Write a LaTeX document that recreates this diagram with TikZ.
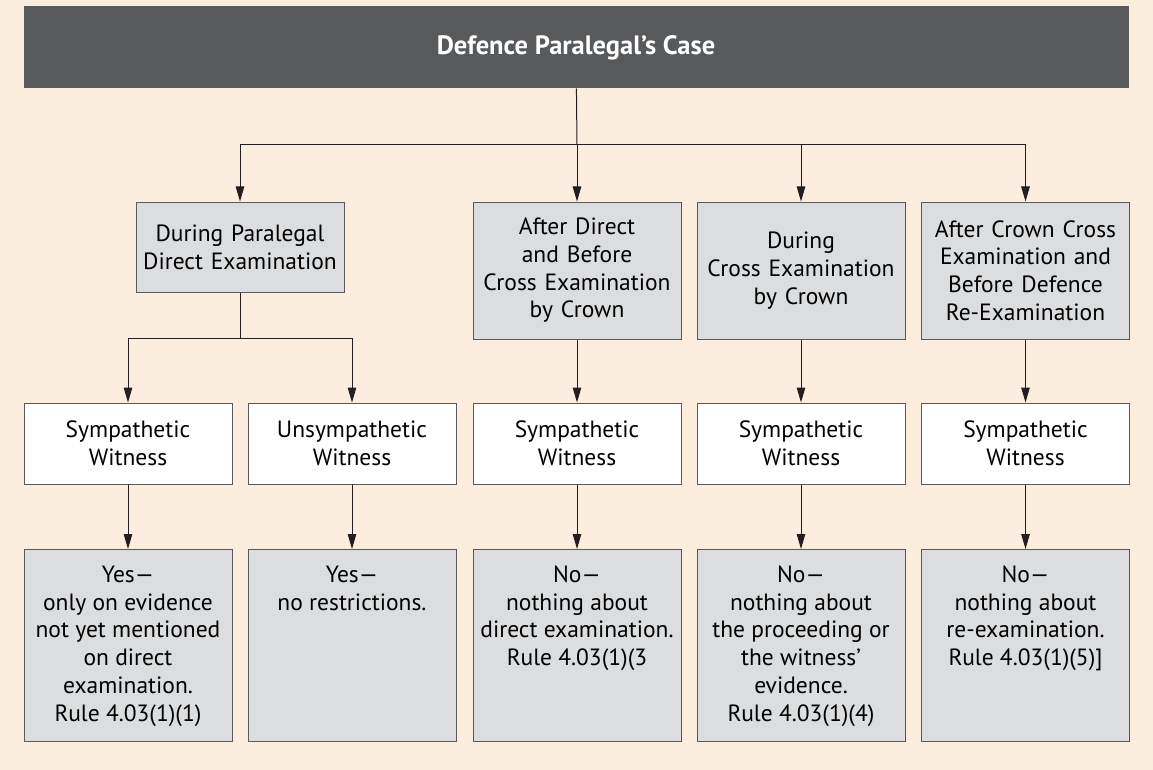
\documentclass[tikz,border=0pt]{standalone}
\usepackage{fontspec}
\setmainfont{PT Sans}
\usetikzlibrary{arrows.meta}

\definecolor{cream}{HTML}{FBEEDF}
\definecolor{darkbar}{HTML}{58595B}
\definecolor{boxgray}{HTML}{DCDDDF}
\definecolor{linegray}{HTML}{231F20}

\newcommand{\ansbox}[1]{\parbox[t][192pt][t]{204pt}{\centering\rule{0pt}{33pt}#1}}

\tikzset{
  base/.style={draw=darkbar,line width=1pt,inner sep=0pt,minimum width=208pt,
    font=\fontsize{23.5}{27.7}\selectfont},
  box/.style={base,align=center,text width=204pt},
  stage/.style={box,fill=boxgray},
  witness/.style={box,fill=white,minimum height=81pt},
  answer/.style={base,fill=boxgray,anchor=north},
  link/.style={draw=linegray,line width=1pt},
  arr/.style={link,-{Triangle[length=15pt,width=8.5pt]}}
}

\begin{document}
\begin{tikzpicture}[x=1pt,y=-1pt]
  \fill[cream] (0,0) rectangle (1153,770);
  \useasboundingbox (0,0) rectangle (1153,770);

  \node[draw=darkbar,fill=darkbar,line width=1pt,minimum width=1104pt,minimum height=81pt,
    text=white,font=\fontsize{26.5}{30}\selectfont\bfseries] (case) at (576,47.5) {Defence Paralegal’s Case};

  % stages
  \node[stage,minimum height=90pt] (dpde) at (240,247) {During Paralegal\\Direct Examination};
  \node[stage,minimum height=137pt] (adbc) at (577,270.5) {After Direct\\and Before\\Cross Examination\\by Crown};
  \node[stage,minimum height=137pt] (dcbc) at (801,270.5) {During\\Cross Examination\\by Crown};
  \node[stage,minimum height=137pt] (acbr) at (1025.5,270.5) {After Crown Cross\\Examination and\\Before Defence\\Re-Examination};

  % witnesses
  \node[witness] (sw1) at (128,443.5) {Sympathetic\\Witness};
  \node[witness] (uw) at (352,443.5) {Unsympathetic\\Witness};
  \node[witness] (sw3) at (577,443.5) {Sympathetic\\Witness};
  \node[witness] (sw4) at (801,443.5) {Sympathetic\\Witness};
  \node[witness] (sw5) at (1025.5,443.5) {Sympathetic\\Witness};

  % answers
  \node[answer] (a1) at (128,549) {\ansbox{Yes—\\only on evidence\\not yet mentioned\\on direct\\examination.\\Rule 4.03(1)(1)}};
  \node[answer] (a2) at (352,549) {\ansbox{Yes—\\no restrictions.}};
  \node[answer] (a3) at (577,549) {\ansbox{No—\\nothing about\\direct examination.\\Rule 4.03(1)(3}};
  \node[answer] (a4) at (801,549) {\ansbox{No—\\nothing about\\the proceeding or\\the witness’\\evidence.\\Rule 4.03(1)(4)}};
  \node[answer] (a5) at (1025.5,549) {\ansbox{No—\\nothing about\\re-examination.\\Rule 4.03(1)(5)]}};

  \coordinate (split) at (577,145);
  \coordinate (fork) at (240,338);

  \draw[link] (case) -- (split);
  \draw[arr] (split) -| (dpde);
  \draw[arr] (split) -- (adbc);
  \draw[arr] (split) -| (dcbc);
  \draw[arr] (split) -| (acbr);

  \draw[link] (dpde) -- (fork);
  \draw[arr] (fork) -| (sw1);
  \draw[arr] (fork) -| (uw);
  \draw[arr] (adbc) -- (sw3);
  \draw[arr] (dcbc) -- (sw4);
  \draw[arr] (acbr) -- (sw5);

  \draw[arr] (sw1) -- (a1);
  \draw[arr] (uw) -- (a2);
  \draw[arr] (sw3) -- (a3);
  \draw[arr] (sw4) -- (a4);
  \draw[arr] (sw5) -- (a5);
\end{tikzpicture}
\end{document}
